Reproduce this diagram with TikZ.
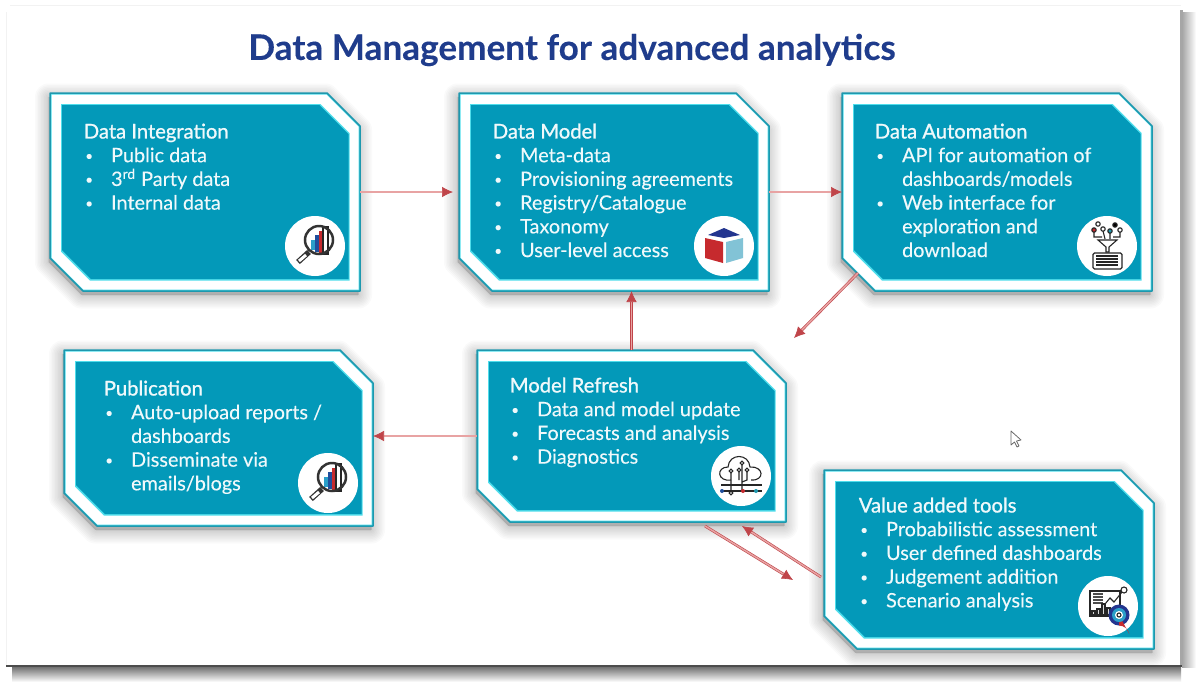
\documentclass[tikz,border=0pt]{standalone}
\usepackage{fontspec}
\setmainfont[FakeBold=0.15]{Lato}
\newfontfamily\ttlfont[FakeBold=1.1]{Lato}
\usetikzlibrary{arrows.meta,fit}
\definecolor{cardblue}{HTML}{0399B9}
\definecolor{edgedark}{HTML}{1E98AE}
\definecolor{edgelight}{HTML}{4FDDEB}
\definecolor{headblue}{HTML}{1F3C8C}
\definecolor{flowred}{HTML}{C0454A}
\definecolor{flowpink}{HTML}{E8A3A3}
\definecolor{barblue}{HTML}{1F4E9C}
\definecolor{barteal}{HTML}{2A9FC9}
\definecolor{facered}{HTML}{C62A2E}
\definecolor{facesky}{HTML}{82C3D6}
\definecolor{facenavy}{HTML}{23358F}
\tikzset{
  headline/.style={font=\fontsize{20}{24}\selectfont\bfseries, text=headblue, inner sep=0pt},
  cardtext/.style={font=\fontsize{11.3}{13.5}\selectfont, text=white!94!cardblue, align=left, anchor=north west, inner sep=0pt},
  iconcircle/.style={circle, fill=white, minimum size=12mm, inner sep=0pt},
  flow/.style={-{Latex[length=2.2mm,width=2.1mm]}, draw=flowred, line width=0.12mm, double=flowpink, double distance=0.3mm, color=flowred},
  ink/.style={draw=black!85, line width=0.22mm},
  lens/.pic={
    \fill[barteal] (-4,-6) rectangle (0,4);
    \fill[barblue] (0,-11) rectangle (4,6);
    \fill[facered] (4,-15) rectangle (8,8);
    \draw[ink, fill=white] (8,-19) rectangle (13,8);
    \draw[black!80, line width=0.5mm] (4,-6) circle (14);
    \draw[black!80, line width=1.1mm] (-6,6) -- (-17,16);
    \draw[white, line width=0.6mm] (-9,9) -- (-16,15);
  },
  cube/.pic={
    \fill[facenavy] (-16,-11) -- (0,-18) -- (16,-11) -- (0,-8) -- cycle;
    \fill[facered] (-19,-8) -- (-1,-4) -- (-1,17) -- (-19,12) -- cycle;
    \fill[facesky] (2,-4) -- (19,-8) -- (19,12) -- (2,17) -- cycle;
  },
  funnel/.pic={
    \foreach \dotx/\doty/\dotc in {-9/-22/white,-13/-16/facered,-4/-17/white,3/-15/edgedark,8/-21/black,13/-16/white}
      \draw[ink, fill=\dotc] (\dotx,\doty) circle (2.2);
    \draw[ink] (-13,-14) -- (-13,-9) -- (-5,-9) (-4,-15) -- (-2,-7) (3,-13) -- (3,-7) (13,-14) -- (13,-9) -- (6,-9);
    \draw[ink, fill=white] (-9,-6) -- (10,-6) -- (2,1) -- (2,6) -- (-1,6) -- (-1,1) -- cycle;
    \draw[ink, fill=white, rounded corners=0.3mm] (-14,7) rectangle (15,23);
    \foreach \rowy in {10,13,16,19}
      \draw[black!85, line width=0.3mm] (-11,\rowy) -- (11,\rowy);
  },
  cloudchip/.pic={
    \draw[ink] (-10,4) .. controls (-24,6) and (-25,-9) .. (-13,-9)
      .. controls (-12,-23) and (8,-23) .. (9,-9)
      .. controls (23,-10) and (24,5) .. (10,4);
    \draw[ink] (-20,9) -- (21,9) (-20,15) -- (21,15);
    \draw[ink] (-10,-4) -- (-10,17) (-2,-6) -- (-2,4) (1,-13) -- (1,15) (6,-6) -- (6,4) -- (1,6);
    \foreach \dotx/\doty/\dotc in {-10/-5/white,-2/-6/white,1/-13/white,6/-6/white,-10/17/white}
      \draw[ink, fill=\dotc] (\dotx,\doty) circle (1.8);
    \foreach \dotx/\dotc in {-19/barblue,2/facered,15/edgedark}
      \fill[\dotc] (\dotx,15) circle (2);
  },
  dashboard/.pic={
    \draw[ink, fill=white] (-18,-15) rectangle (12,10);
    \foreach \rowy in {-12,-9,-6,-3}
      \draw[black!70, line width=0.25mm] (-15,\rowy) -- (-5,\rowy);
    \draw[ink] (-3,-2) -- (2,-8) -- (6,-4) -- (14,-14);
    \draw[ink, fill=white] (16,-16) circle (3);
    \foreach \barx/\bary in {-16/5,-11/3,-6/-2,-1/2}
      \draw[ink, fill=black!15] (\barx,9) rectangle ({\barx+3},\bary);
    \fill[facenavy] (11,9) circle (10.5);
    \fill[facered] (11,19.5) arc (-90:-10:10.5) -- (11,9) -- cycle;
    \fill[barteal] (11,9) circle (7);
    \fill[white] (11,9) circle (4);
    \draw[ink] (11,9) circle (2);
  }
}
\newcommand{\cardpoly}[5]{(#1,#2) -- ({#3-#5},#2) -- (#3,{#2+#5}) -- (#3,#4) -- ({#1+#5},#4) -- (#1,{#4-#5}) -- cycle}
\newcommand{\card}[5]{%
  \foreach \blur in {3,6,...,27}
    \draw[black, fill=black, opacity=0.02, line width=\blur*0.2mm, line join=round, yshift=-0.8mm, xshift=-0.3mm] \cardpoly{#2}{#3}{#4}{#5}{33};
  \draw[edgedark, fill=edgelight, line width=0.3mm, line join=round] \cardpoly{#2}{#3}{#4}{#5}{33};
  \fill[white] \cardpoly{#2+1.5}{#3+1.5}{#4-1.5}{#5-1.5}{32};
  \fill[edgelight] \cardpoly{#2+11}{#3+11}{#4-10.5}{#5-10.5}{29};
  \fill[cardblue] \cardpoly{#2+12}{#3+12}{#4-11.5}{#5-12}{29};
  \node[fit={(#2,#3) (#4,#5)}, inner sep=0pt, outer sep=0pt] (#1) {};
}
\newcommand{\itm}{\makebox[5.45mm][l]{\hspace{0.3mm}\raisebox{0.35mm}{\fontsize{7.5}{7.5}\selectfont\textbullet}}}
\newcommand{\cont}{\makebox[5.45mm]{}}
\newcommand{\ttl}[1]{\strut{\fontsize{11.5}{13.5}\ttlfont #1}}
\begin{document}
\begin{tikzpicture}[x=0.2mm,y=-0.2mm]
\useasboundingbox (0,0) rectangle (1199,686);
\fill[white] (0,0) rectangle (1199,686);
% ---- slide frame ----
\shade[top color=black!55, bottom color=white] (12,667) rectangle (1181,682);
\shade[left color=black!35, right color=white] (1182,12) rectangle (1196,667);
\draw[black!5, line width=0.2mm] (6,12) -- (6,666) (10,5) -- (1181,5);
\draw[black!35, line width=0.5mm] (1181.5,10) -- (1181.5,666);
\draw[black!70, line width=0.4mm] (6,666) -- (1182,666);
\node[headline] (title) at (572,50) {Data Management for advanced analytics};
% ---- cards ----
\card{integ}{50}{93}{360}{291}
\card{model}{459}{93}{769}{291}
\card{auto}{842}{93}{1152}{291}
\card{pub}{64}{350}{373}{526}
\card{refresh}{477}{350}{786}{522}
\card{tools}{824}{470}{1154}{649}
% ---- card texts ----
\node[cardtext] (integtext) at (83.5,121.5) {\ttl{Data Integration}\\ \itm Public data\\ \itm 3\textsuperscript{rd} Party data\\ \itm Internal data};
\node[cardtext] (modeltext) at (492.5,121.5) {\ttl{Data Model}\\ \itm Meta-data\\ \itm Provisioning agreements\\ \itm Registry/Catalogue\\ \itm Taxonomy\\ \itm User-level access};
\node[cardtext] (autotext) at (874.5,121.5) {\ttl{Data Automation}\\ \itm API for automation of\\ \cont dashboards/models\\ \itm Web interface for\\ \cont exploration and\\ \cont download};
\node[cardtext] (pubtext) at (103.5,378.5) {\ttl{Publication}\\ \itm Auto-upload reports /\\ \cont dashboards\\ \itm Disseminate via\\ \cont emails/blogs};
\node[cardtext] (refreshtext) at (509.5,375.5) {\ttl{Model Refresh}\\ \itm Data and model update\\ \itm Forecasts and analysis\\ \itm Diagnostics};
\node[cardtext] (toolstext) at (858.5,495.5) {\ttl{Value added tools}\\ \itm Probabilistic assessment\\ \itm User defined dashboards\\ \itm Judgement addition\\ \itm Scenario analysis};
% ---- icons ----
\node[iconcircle] (integicon) at (315,246) {};
\node[iconcircle] (modelicon) at (724,246) {};
\node[iconcircle] (autoicon) at (1107,246) {};
\node[iconcircle] (pubicon) at (328,483) {};
\node[iconcircle] (refreshicon) at (741,476) {};
\node[iconcircle] (toolsicon) at (1108,606) {};
\pic at (integicon) {lens};
\pic at (modelicon) {cube};
\pic at (autoicon) {funnel};
\pic at (pubicon) {lens};
\pic at (refreshicon) {cloudchip};
\pic at (toolsicon) {dashboard};
% ---- connectors ----
\coordinate (autoout) at (858,273);
\coordinate (refreshin) at (794,338);
\coordinate (downfrom) at (705,526);
\coordinate (downto) at (793,580);
\coordinate (upfrom) at (821,577);
\coordinate (upto) at (742,526);
\draw[flow, shorten >=1.2mm] (integ.east) -- (model.west);
\draw[flow] (model.east) -- (auto.west);
\draw[flow] (autoout) -- (refreshin);
\draw[flow] (refresh.north) -- (refresh.north |- model.south);
\draw[flow] (refresh.west) -- (pub.east |- refresh.west);
\draw[flow] (downfrom) -- (downto);
\draw[flow] (upfrom) -- (upto);
% ---- pointer ----
\draw[black!60, fill=white, line width=0.15mm, line join=round] (1011,431) -- (1011,445) -- (1014.5,442) -- (1017,447) -- (1019,446) -- (1016.5,441) -- (1021,440) -- cycle;
\end{tikzpicture}
\end{document}
